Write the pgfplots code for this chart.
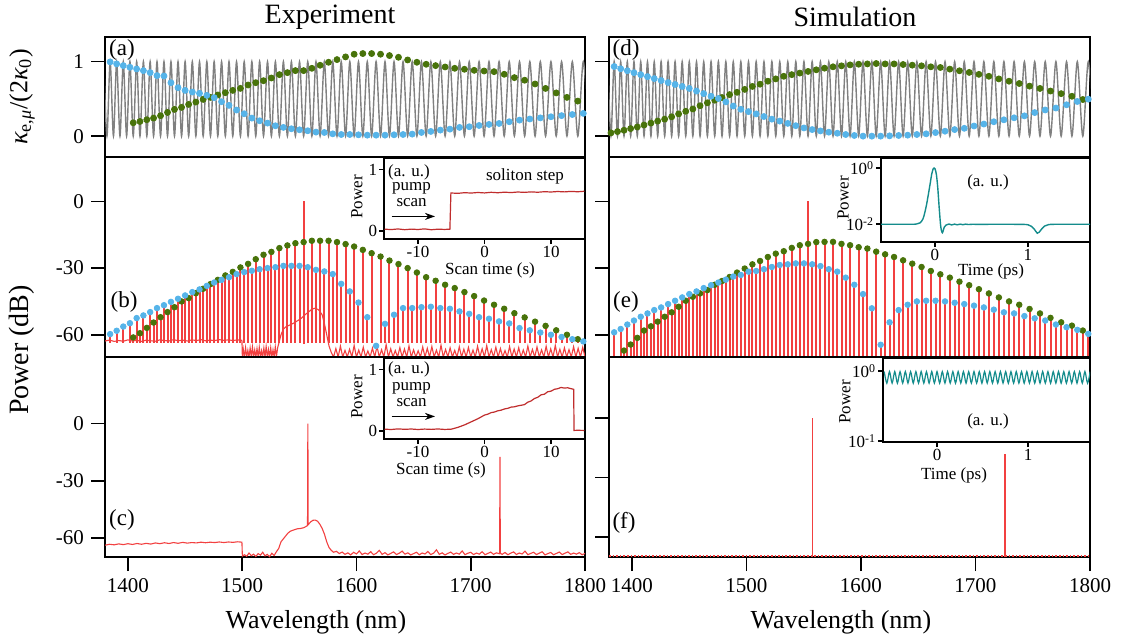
\documentclass[border=0pt]{standalone}
\usepackage{fontspec}
\setmainfont{Liberation Serif}
\usepackage{pgfplots}
\pgfplotsset{compat=1.18}
\usepackage{pgfplotstable}
\usetikzlibrary{arrows.meta}

\definecolor{cblue}{RGB}{86,180,233}
\definecolor{cgreen}{RGB}{72,115,10}
\definecolor{cred}{RGB}{242,64,64}
\definecolor{cdred}{RGB}{192,45,45}
\definecolor{cteal}{RGB}{20,140,140}
\definecolor{cgray}{RGB}{128,128,128}

% kappa oscillation: maxima and minima on the mode grid
\pgfplotstableread{
x y
1378.9 1
1381.7 0
1384.5 1
1387.4 0
1390.2 1
1393.1 0
1396.0 1
1398.9 0
1401.8 1
1404.7 0
1407.7 1
1410.6 0
1413.6 1
1416.6 0
1419.5 1
1422.5 0
1425.5 1
1428.6 0
1431.6 1
1434.7 0
1437.7 1
1440.8 0
1443.9 1
1447.0 0
1450.1 1
1453.2 0
1456.4 1
1459.5 0
1462.7 1
1465.9 0
1469.1 1
1472.3 0
1475.5 1
1478.7 0
1482.0 1
1485.3 0
1488.5 1
1491.8 0
1495.1 1
1498.5 0
1501.8 1
1505.2 0
1508.5 1
1511.9 0
1515.3 1
1518.7 0
1522.2 1
1525.6 0
1529.1 1
1532.6 0
1536.1 1
1539.6 0
1543.1 1
1546.6 0
1550.2 1
1553.8 0
1557.4 1
1561.0 0
1564.6 1
1568.2 0
1571.9 1
1575.6 0
1579.3 1
1583.0 0
1586.7 1
1590.5 0
1594.2 1
1598.0 0
1601.8 1
1605.6 0
1609.5 1
1613.3 0
1617.2 1
1621.1 0
1625.0 1
1628.9 0
1632.9 1
1636.8 0
1640.8 1
1644.8 0
1648.8 1
1652.9 0
1656.9 1
1661.0 0
1665.1 1
1669.3 0
1673.4 1
1677.6 0
1681.8 1
1686.0 0
1690.2 1
1694.5 0
1698.7 1
1703.0 0
1707.3 1
1711.7 0
1716.0 1
1720.4 0
1724.8 1
1729.3 0
1733.7 1
1738.2 0
1742.7 1
1747.2 0
1751.7 1
1756.3 0
1760.9 1
1765.5 0
1770.2 1
1774.8 0
1779.5 1
1784.2 0
1788.9 1
1793.7 0
1798.5 1
1803.3 0
}\gridtab

\pgfplotstableread{
x y
1384.5 0.996
1390.2 0.969
1396.0 0.946
1401.8 0.924
1407.7 0.901
1413.6 0.879
1419.5 0.852
1425.5 0.812
1431.6 0.807
1437.7 0.717
1443.9 0.650
1450.1 0.614
1456.4 0.592
1462.7 0.574
1469.1 0.547
1475.5 0.516
1482.0 0.462
1488.5 0.413
1495.1 0.350
1501.8 0.300
1508.5 0.242
1515.3 0.206
1522.2 0.175
1529.1 0.139
1536.1 0.117
1543.1 0.099
1550.2 0.085
1557.4 0.072
1564.6 0.054
1571.9 0.049
1579.3 0.031
1586.7 0.022
1594.2 0.022
1601.8 0.018
1609.5 0.013
1617.2 0.013
1625.0 0.013
1632.9 0.018
1640.8 0.022
1648.8 0.027
1656.9 0.049
1665.1 0.063
1673.4 0.081
1681.8 0.094
1690.2 0.117
1698.7 0.126
1707.3 0.143
1716.0 0.157
1724.8 0.170
1733.7 0.193
1742.7 0.215
1751.7 0.230
1760.9 0.245
1770.2 0.260
1779.5 0.275
1788.9 0.290
1798.5 0.305
}\ablue

\pgfplotstableread{
x y
1404.7 0.179
1410.6 0.197
1416.6 0.220
1422.5 0.242
1428.6 0.274
1434.7 0.318
1440.8 0.359
1447.0 0.386
1453.2 0.426
1459.5 0.457
1465.9 0.493
1472.3 0.520
1478.7 0.552
1485.3 0.583
1491.8 0.614
1498.5 0.641
1505.2 0.686
1511.9 0.717
1518.7 0.744
1525.6 0.780
1532.6 0.825
1539.6 0.852
1546.6 0.879
1553.8 0.879
1561.0 0.910
1568.2 0.951
1575.6 0.991
1583.0 1.027
1590.5 1.063
1598.0 1.099
1605.6 1.108
1613.3 1.108
1621.1 1.099
1628.9 1.081
1636.8 1.058
1644.8 1.022
1652.9 0.991
1661.0 0.964
1669.3 0.946
1677.6 0.928
1686.0 0.910
1694.5 0.897
1703.0 0.883
1711.7 0.874
1720.4 0.865
1729.3 0.830
1738.2 0.785
1747.2 0.750
1756.3 0.700
1765.5 0.640
1774.8 0.580
1784.2 0.520
1793.7 0.470
}\agreen

\pgfplotstableread{
x y
1384.5 0.934
1390.2 0.904
1396.0 0.877
1401.8 0.851
1407.7 0.825
1413.6 0.798
1419.5 0.772
1425.5 0.746
1431.6 0.719
1437.7 0.693
1443.9 0.667
1450.1 0.640
1456.4 0.605
1462.7 0.570
1469.1 0.535
1475.5 0.505
1482.0 0.460
1488.5 0.404
1495.1 0.360
1501.8 0.329
1508.5 0.298
1515.3 0.263
1522.2 0.228
1529.1 0.202
1536.1 0.171
1543.1 0.140
1550.2 0.110
1557.4 0.088
1564.6 0.070
1571.9 0.053
1579.3 0.039
1586.7 0.022
1594.2 0.009
1601.8 0.000
1609.5 0.000
1617.2 0.000
1625.0 0.004
1632.9 0.009
1640.8 0.013
1648.8 0.022
1656.9 0.031
1665.1 0.048
1673.4 0.066
1681.8 0.088
1690.2 0.105
1698.7 0.136
1707.3 0.162
1716.0 0.193
1724.8 0.219
1733.7 0.246
1742.7 0.272
1751.7 0.316
1760.9 0.351
1770.2 0.377
1779.5 0.421
1788.9 0.465
1798.5 0.496
}\dblue

\pgfplotstableread{
x y
1381.7 0.044
1387.4 0.061
1393.1 0.079
1398.9 0.101
1404.7 0.123
1410.6 0.149
1416.6 0.175
1422.5 0.202
1428.6 0.228
1434.7 0.259
1440.8 0.298
1447.0 0.333
1453.2 0.364
1459.5 0.408
1465.9 0.447
1472.3 0.482
1478.7 0.518
1485.3 0.557
1491.8 0.588
1498.5 0.627
1505.2 0.667
1511.9 0.697
1518.7 0.737
1525.6 0.768
1532.6 0.803
1539.6 0.825
1546.6 0.846
1553.8 0.868
1561.0 0.890
1568.2 0.912
1575.6 0.930
1583.0 0.943
1590.5 0.956
1598.0 0.965
1605.6 0.969
1613.3 0.974
1621.1 0.969
1628.9 0.969
1636.8 0.961
1644.8 0.952
1652.9 0.943
1661.0 0.930
1669.3 0.921
1677.6 0.899
1686.0 0.877
1694.5 0.855
1703.0 0.829
1711.7 0.803
1720.4 0.768
1729.3 0.737
1738.2 0.706
1747.2 0.671
1756.3 0.640
1765.5 0.605
1774.8 0.570
1784.2 0.535
1793.7 0.491
}\dgreen

\pgfplotstableread{
x y
1384.5 -59.7
1390.2 -58.2
1396.0 -56.3
1401.8 -54.8
1407.7 -52.5
1413.6 -51.3
1419.5 -49.8
1425.5 -48.0
1431.6 -46.7
1437.7 -45.2
1443.9 -43.8
1450.1 -42.3
1456.4 -40.8
1462.7 -39.6
1469.1 -38.0
1475.5 -36.5
1482.0 -35.3
1488.5 -34.1
1495.1 -32.7
1501.8 -31.8
1508.5 -31.2
1515.3 -30.5
1522.2 -30.0
1529.1 -29.6
1536.1 -29.0
1543.1 -29.0
1550.2 -29.0
1557.4 -29.6
1564.6 -30.8
1571.9 -31.5
1579.3 -32.7
1586.7 -37.1
1594.2 -40.5
1601.8 -45.5
1609.5 -52.1
1617.2 -65.0
1625.0 -55.1
1632.9 -51.0
1640.8 -48.0
1648.8 -48.0
1656.9 -47.6
1665.1 -47.4
1673.4 -48.0
1681.8 -48.3
1690.2 -49.5
1698.7 -50.6
1707.3 -52.1
1716.0 -52.8
1724.8 -54.0
1733.7 -54.9
1742.7 -57.0
1751.7 -58.0
1760.9 -59.0
1770.2 -60.0
1779.5 -61.0
1788.9 -62.0
1798.5 -63.0
}\bblue

\pgfplotstableread{
x y
1404.7 -61.2
1410.6 -59.3
1416.6 -56.9
1422.5 -54.5
1428.6 -52.1
1434.7 -49.8
1440.8 -47.6
1447.0 -45.0
1453.2 -43.5
1459.5 -41.3
1465.9 -39.3
1472.3 -37.2
1478.7 -35.3
1485.3 -33.3
1491.8 -31.7
1498.5 -29.7
1505.2 -28.1
1511.9 -26.0
1518.7 -24.0
1525.6 -22.7
1532.6 -21.0
1539.6 -19.8
1546.6 -18.8
1553.8 -18.3
1561.0 -17.7
1568.2 -17.7
1575.6 -17.7
1583.0 -18.3
1590.5 -19.2
1598.0 -20.3
1605.6 -21.8
1613.3 -23.3
1621.1 -24.8
1628.9 -26.6
1636.8 -28.2
1644.8 -30.0
1652.9 -32.0
1661.0 -34.1
1669.3 -35.7
1677.6 -37.5
1686.0 -39.0
1694.5 -40.8
1703.0 -42.6
1711.7 -44.6
1720.4 -46.5
1729.3 -48.3
1738.2 -50.3
1747.2 -52.2
1756.3 -54.1
1765.5 -56.0
1774.8 -58.0
1784.2 -60.0
1793.7 -62.0
}\bgreen

\pgfplotstableread{
x y
1384.5 -58.9
1390.2 -57.4
1396.0 -55.4
1401.8 -53.6
1407.7 -51.9
1413.6 -50.4
1419.5 -48.9
1425.5 -47.7
1431.6 -46.2
1437.7 -44.7
1443.9 -43.2
1450.1 -41.7
1456.4 -40.5
1462.7 -39.0
1469.1 -37.7
1475.5 -36.5
1482.0 -35.2
1488.5 -33.8
1495.1 -33.1
1501.8 -31.6
1508.5 -31.3
1515.3 -30.5
1522.2 -29.5
1529.1 -28.6
1536.1 -28.3
1543.1 -27.9
1550.2 -27.9
1557.4 -28.3
1564.6 -29.1
1571.9 -30.5
1579.3 -31.6
1586.7 -34.3
1594.2 -37.5
1601.8 -41.7
1609.5 -48.1
1617.2 -64.5
1625.0 -54.4
1632.9 -48.9
1640.8 -46.5
1648.8 -45.0
1656.9 -44.7
1665.1 -44.7
1673.4 -45.0
1681.8 -45.6
1690.2 -46.2
1698.7 -46.9
1707.3 -47.7
1716.0 -48.7
1724.8 -49.9
1733.7 -50.4
1742.7 -51.6
1751.7 -52.6
1760.9 -53.6
1770.2 -55.4
1779.5 -56.6
1788.9 -57.8
1798.5 -59.6
}\eblue

\pgfplotstableread{
x y
1393.1 -67.1
1398.9 -64.4
1404.7 -61.4
1410.6 -58.1
1416.6 -56.2
1422.5 -54.1
1428.6 -51.9
1434.7 -49.9
1440.8 -47.4
1447.0 -44.7
1453.2 -42.9
1459.5 -41.4
1465.9 -39.9
1472.3 -37.5
1478.7 -35.8
1485.3 -34.0
1491.8 -32.0
1498.5 -30.2
1505.2 -28.3
1511.9 -26.8
1518.7 -25.0
1525.6 -23.5
1532.6 -22.4
1539.6 -20.9
1546.6 -19.7
1553.8 -19.1
1561.0 -18.3
1568.2 -18.2
1575.6 -18.2
1583.0 -19.1
1590.5 -19.7
1598.0 -20.6
1605.6 -21.2
1613.3 -22.6
1621.1 -23.8
1628.9 -25.0
1636.8 -26.5
1644.8 -28.0
1652.9 -29.5
1661.0 -31.3
1669.3 -32.8
1677.6 -34.3
1686.0 -36.1
1694.5 -37.7
1703.0 -39.5
1711.7 -41.4
1720.4 -43.2
1729.3 -45.0
1738.2 -46.5
1747.2 -48.4
1756.3 -50.4
1765.5 -52.4
1774.8 -54.4
1784.2 -55.9
1793.7 -58.1
}\egreen

% measured background of the soliton spectrum (b)
\pgfplotstableread{
x y
1380 -62.8
1384 -62.4
1388 -63.0
1392 -62.6
1396 -62.9
1400 -62.3
1404 -62.8
1408 -62.5
1412 -63.0
1416 -62.4
1420 -62.7
1424 -62.9
1428 -62.3
1432 -62.6
1436 -62.8
1440 -62.2
1444 -62.7
1448 -62.4
1452 -62.8
1456 -62.3
1460 -62.6
1464 -62.2
1468 -62.7
1472 -62.4
1476 -62.6
1480 -62.2
1484 -62.5
1488 -62.3
1492 -62.6
1496 -62.3
1499.8 -62.5
1500.2 -70
1501 -66.5
1502 -70
1503 -65.8
1504 -70
1505 -67.0
1506 -70
1507 -66.0
1508 -70
1509 -65.5
1510 -70
1511 -66.8
1512 -70
1513 -66.2
1514 -70
1515 -65.7
1516 -70
1517 -67.2
1518 -70
1519 -66.0
1520 -70
1521 -65.4
1522 -70
1523 -66.6
1524 -70
1525 -65.9
1526 -70
1527 -66.8
1528 -70
1529 -65.5
1530 -70
1531 -66.0
1532 -64.0
1534 -60.0
1536 -57.5
1538 -56.5
1540 -56.0
1543 -55.3
1546 -54.5
1549 -53.5
1552 -52.5
1555 -51.0
1558 -49.8
1561 -48.5
1564 -48.0
1567 -48.8
1570 -51.0
1572 -55.0
1574 -60.0
1576 -65.0
1578 -68.0
1580 -70
1582 -66.2
1584 -70
1586 -65.1
1588 -70
1590 -67.0
1592 -70
1594 -66.5
1596 -70
1598 -64.8
1600 -70
1602 -66.9
1604 -70
1606 -65.6
1608 -70
1610 -67.3
1612 -70
1614 -66.0
1616 -70
1618 -65.2
1620 -70
1622 -66.7
1624 -70
1626 -64.5
1628 -70
1630 -66.3
1632 -70
1634 -67.1
1636 -70
1638 -65.8
1640 -70
1642 -66.4
1644 -70
1646 -65.0
1648 -70
1650 -66.8
1652 -70
1654 -67.2
1656 -70
1658 -65.5
1660 -70
1662 -66.1
1664 -70
1666 -65.3
1668 -70
1670 -66.9
1672 -70
1674 -64.7
1676 -70
1678 -66.6
1680 -70
1682 -65.9
1684 -70
1686 -67.0
1688 -70
1690 -65.4
1692 -70
1694 -66.5
1696 -70
1698 -65.7
1700 -70
1702 -66.9
1704 -70
1706 -65.2
1708 -70
1710 -66.3
1712 -70
1714 -64.9
1716 -70
1718 -66.7
1720 -70
1722 -65.6
1724 -70
1726 -66.2
1728 -70
1730 -67.1
1732 -70
1734 -65.3
1736 -70
1738 -66.4
1740 -70
1742 -65.8
1744 -70
1746 -66.9
1748 -70
1750 -65.1
1752 -70
1754 -66.6
1756 -70
1758 -65.5
1760 -70
1762 -66.8
1764 -70
1766 -65.2
1768 -70
1770 -66.3
1772 -70
1774 -64.8
1776 -70
1778 -66.5
1780 -70
1782 -65.9
1784 -70
1786 -66.7
1788 -70
1790 -65.4
1792 -70
1794 -66.1
1796 -70
1798 -65.6
1800 -70
}\bfloor

% measured spectrum (c)
\pgfplotstableread{
x y
1380 -63.8
1384 -63.3
1388 -63.6
1392 -63.1
1396 -63.5
1400 -63.0
1404 -63.4
1408 -62.9
1412 -63.3
1416 -62.8
1420 -63.2
1424 -62.6
1428 -63.0
1432 -62.5
1436 -62.9
1440 -62.4
1444 -62.8
1448 -62.3
1452 -62.7
1456 -62.4
1460 -62.6
1464 -62.2
1468 -62.5
1472 -62.2
1476 -62.4
1480 -62.1
1484 -62.4
1488 -62.1
1492 -62.3
1496 -62.0
1499.8 -62.2
1500.2 -69.5
1502 -68.8
1504 -69.6
1506 -67.9
1508 -69.3
1510 -68.5
1512 -69.7
1514 -68.2
1516 -69.0
1518 -67.5
1520 -69.4
1522 -68.6
1524 -69.8
1526 -68.0
1528 -69.2
1530 -67.2
1532 -65.5
1534 -62.0
1536 -60.5
1538 -59.0
1540 -57.5
1542 -56.5
1545 -55.8
1548 -55.2
1551 -55.0
1554 -54.6
1557.2 -53.5
1557.5 0
1557.8 -53.0
1560 -51.5
1562 -50.7
1564 -50.6
1566 -51.2
1568 -52.8
1570 -55.0
1572 -58.0
1574 -62.0
1576 -65.0
1578 -66.5
1580 -67.5
1582.5 -67.0
1585 -68.2
1587.5 -67.4
1590 -68.6
1592.5 -67.8
1595 -68.9
1597.5 -67.5
1600 -68.4
1602.5 -66.8
1605 -68.7
1607.5 -67.9
1610 -68.5
1612.5 -67.2
1615 -68.8
1617.5 -68.0
1620 -66.5
1622.5 -68.6
1625 -67.7
1627.5 -68.9
1630 -68.1
1632.5 -67.3
1635 -68.7
1637.5 -68.0
1640 -66.9
1642.5 -68.5
1645 -67.8
1647.5 -68.9
1650 -68.2
1652.5 -67.5
1655 -68.8
1657.5 -67.9
1660 -68.4
1662.5 -67.1
1665 -68.7
1667.5 -68.0
1670 -66.2
1672.5 -68.6
1675 -67.8
1677.5 -68.9
1680 -68.1
1682.5 -67.4
1685 -68.6
1687.5 -67.9
1690 -68.5
1692.5 -66.8
1695 -68.8
1697.5 -68.0
1700 -67.5
1702.5 -68.7
1705 -67.9
1707.5 -68.5
1710 -67.2
1712.5 -68.8
1715 -68.1
1717.5 -67.4
1720 -68.6
1722.5 -67.8
1725.3 -68.3
1725.6 -17.4
1725.9 -68.0
1727.5 -68.6
1730 -67.6
1732.5 -68.8
1735 -68.0
1737.5 -67.3
1740 -68.7
1742.5 -67.9
1745 -68.4
1747.5 -66.9
1750 -68.8
1752.5 -68.1
1755 -67.5
1757.5 -68.7
1760 -68.0
1762.5 -67.2
1765 -68.9
1767.5 -68.2
1770 -67.6
1772.5 -68.8
1775 -68.1
1777.5 -67.4
1780 -68.7
1782.5 -68.0
1785 -67.3
1787.5 -68.6
1790 -67.9
1792.5 -68.5
1795 -67.7
1797.5 -68.8
1800 -68.1
}\cfloor

\pgfplotstableread{
x y
-15 0.030
-14 0.024
-13 0.034
-12 0.022
-11 0.031
-10 0.025
-9 0.035
-8 0.021
-7 0.030
-6 0.026
-5.2 0.030
-5.05 0.620
-4 0.614
-3 0.625
-2 0.619
-1 0.628
0 0.621
1 0.631
2 0.624
3 0.633
4 0.627
5 0.636
6 0.630
7 0.638
8 0.632
9 0.641
10 0.636
11 0.644
12 0.638
13 0.646
14 0.640
15 0.648
}\binset

\pgfplotstableread{
x y
-15 0.030
-14 0.025
-13 0.035
-12 0.028
-11 0.033
-10 0.025
-9 0.032
-8 0.027
-7 0.034
-6 0.026
-5 0.030
-4 0.060
-3 0.100
-2 0.150
-1 0.200
0 0.260
0.5 0.275
1 0.300
1.5 0.310
2 0.330
2.5 0.340
3 0.360
3.5 0.370
4 0.390
4.5 0.395
5 0.410
5.5 0.420
6 0.430
6.5 0.470
7 0.490
7.5 0.530
8 0.550
8.5 0.590
9 0.600
9.5 0.640
10 0.650
10.5 0.680
11 0.690
11.5 0.710
12 0.700
12.5 0.705
13 0.690
13.4 0.680
13.45 0.010
14 0.012
15 0.010
}\cinset

\pgfplotstableread{
x y
-0.58 0.0098
-0.40 0.0098
-0.25 0.0098
-0.20 0.0100
-0.16 0.0110
-0.13 0.015
-0.11 0.025
-0.09 0.050
-0.07 0.120
-0.05 0.300
-0.035 0.600
-0.02 0.920
-0.01 1.000
0.00 0.950
0.015 0.600
0.03 0.200
0.045 0.040
0.06 0.0095
0.07 0.0058
0.08 0.0049
0.09 0.0060
0.10 0.0078
0.12 0.0092
0.15 0.0100
0.18 0.0093
0.21 0.0099
0.24 0.0094
0.27 0.0099
0.30 0.0095
0.33 0.0099
0.36 0.0096
0.40 0.0098
0.50 0.0097
0.60 0.0098
0.80 0.0098
0.95 0.0097
1.00 0.0094
1.04 0.0082
1.07 0.0064
1.10 0.0047
1.12 0.0051
1.15 0.0068
1.18 0.0085
1.22 0.0095
1.30 0.0098
1.67 0.0098
}\einset

\pgfplotstableread{
x y
-0.580 0.98
-0.551 0.67
-0.522 0.98
-0.493 0.67
-0.464 0.98
-0.435 0.67
-0.406 0.98
-0.377 0.67
-0.348 0.98
-0.319 0.67
-0.290 0.98
-0.261 0.67
-0.232 0.98
-0.203 0.67
-0.174 0.98
-0.145 0.67
-0.116 0.98
-0.087 0.67
-0.058 0.98
-0.029 0.67
0.000 0.98
0.029 0.67
0.058 0.98
0.087 0.67
0.116 0.98
0.145 0.67
0.174 0.98
0.203 0.67
0.232 0.98
0.261 0.67
0.290 0.98
0.319 0.67
0.348 0.98
0.377 0.67
0.406 0.98
0.435 0.67
0.464 0.98
0.493 0.67
0.522 0.98
0.551 0.67
0.580 0.98
0.609 0.67
0.638 0.98
0.667 0.67
0.696 0.98
0.725 0.67
0.754 0.98
0.783 0.67
0.812 0.98
0.841 0.67
0.870 0.98
0.899 0.67
0.928 0.98
0.957 0.67
0.986 0.98
1.015 0.67
1.044 0.98
1.073 0.67
1.102 0.98
1.131 0.67
1.160 0.98
1.189 0.67
1.218 0.98
1.247 0.67
1.276 0.98
1.305 0.67
1.334 0.98
1.363 0.67
1.392 0.98
1.421 0.67
1.450 0.98
1.479 0.67
1.508 0.98
1.537 0.67
1.566 0.98
1.595 0.67
1.624 0.98
1.653 0.67
1.682 0.98
}\finset

\pgfplotsset{
  mainax/.style={scale only axis, anchor=north west, xmin=1380, xmax=1800,
    axis line style={line width=0.9pt}, tick style={line width=0.8pt, black},
    tick align=outside, major tick length=7pt, tick pos=left,
    /pgf/number format/assume math mode=true, /pgf/number format/1000 sep={},
    ticklabel style={font=\fontsize{10.5}{12}\selectfont}},
  insetax/.style={scale only axis, anchor=north west, axis background/.style={fill=white},
    axis line style={line width=0.8pt}, tick style={line width=0.6pt, black},
    tick align=outside, major tick length=2.5pt, tick pos=left,
    /pgf/number format/assume math mode=true,
    ticklabel style={font=\fontsize{8.5}{10}\selectfont, inner sep=0.8pt}},
  stem/.style={draw=cred, line width=1pt, -, quiver={u=0, v={-\thisrow{y}-#1}}},
  dotmk/.style={only marks, mark=*, mark size=#1},
}

\begin{document}
\begin{tikzpicture}
\path[use as bounding box] (0,0) rectangle (561pt,-321.5pt);

% (a)
\begin{axis}[mainax, at={(52.5pt,-18.5pt)}, width=240pt, height=60pt,
  ymin=-0.28, ymax=1.33, ytick={0,1}, xtick=\empty]
\addplot[cgray, line width=0.7pt, smooth] table {\gridtab};
\addplot[dotmk=1.5pt, cgreen] table {\agreen};
\addplot[dotmk=1.5pt, cblue] table {\ablue};
\end{axis}

% (b)
\begin{axis}[mainax, at={(52.5pt,-78.5pt)}, width=240pt, height=100pt,
  ymin=-70, ymax=20, ytick={-60,-30,0}, xtick=\empty]
\addplot[stem=63.5] table {\bgreen};
\addplot[stem=63.5] table {\bblue};
\addplot[draw=cred, line width=0.9pt] coordinates {(1553.8,-64) (1553.8,0)};
\addplot[cred, line width=0.55pt] table {\bfloor};
\addplot[dotmk=1.4pt, cgreen] table {\bgreen};
\addplot[dotmk=1.4pt, cblue] table {\bblue};
\end{axis}

% (c)
\begin{axis}[mainax, at={(52.5pt,-178.5pt)}, width=240pt, height=100pt,
  ymin=-70, ymax=35, ytick={-60,-30,0}, xtick={1400,1500,1600,1700,1800}]
\addplot[cred, line width=0.55pt] table {\cfloor};
\end{axis}

% (d)
\begin{axis}[mainax, at={(304.5pt,-18.5pt)}, width=240.5pt, height=60pt,
  ymin=-0.28, ymax=1.33, ytick={0,1}, yticklabels={}, xtick=\empty]
\addplot[cgray, line width=0.7pt, smooth] table {\gridtab};
\addplot[dotmk=1.5pt, cgreen] table {\dgreen};
\addplot[dotmk=1.5pt, cblue] table {\dblue};
\end{axis}

% (e)
\begin{axis}[mainax, at={(304.5pt,-78.5pt)}, width=240.5pt, height=100pt,
  ymin=-70, ymax=20, ytick={-60,-30,0}, yticklabels={}, xtick=\empty]
\addplot[stem=70] table {\eblue};
\addplot[stem=70] table {\egreen};
\addplot[draw=cred, line width=0.9pt] coordinates {(1553.8,-70) (1553.8,0)};
\addplot[dotmk=1.4pt, cgreen] table {\egreen};
\addplot[dotmk=1.4pt, cblue] table {\eblue};
\end{axis}

% (f)
\begin{axis}[mainax, at={(304.5pt,-178.5pt)}, width=240.5pt, height=100pt,
  ymin=-70, ymax=30.5, ytick={-60,-30,0}, yticklabels={}, xtick={1400,1500,1600,1700,1800}]
\addplot[cred, line width=0.8pt, densely dotted] coordinates {(1380,-69.6) (1800,-69.6)};
\addplot[cred, line width=0.8pt] coordinates {(1557.6,-70) (1557.6,0)};
\addplot[cred, line width=0.8pt] coordinates {(1725.6,-70) (1725.6,-18)};
\end{axis}

% insets
\begin{axis}[insetax, at={(192pt,-79pt)}, width=100.5pt, height=40.5pt,
  xmin=-15.1, xmax=15.1, ymin=-0.13, ymax=1.19, xtick={-10,0,10}, ytick={0,1}]
\addplot[cdred, line width=0.6pt] table {\binset};
\end{axis}
\begin{axis}[insetax, at={(192pt,-179pt)}, width=100.5pt, height=40.5pt,
  xmin=-15.1, xmax=15.1, ymin=-0.13, ymax=1.19, xtick={-10,0,10}, ytick={0,1}]
\addplot[cdred, line width=0.6pt] table {\cinset};
\end{axis}
\begin{axis}[insetax, at={(440.5pt,-79pt)}, width=104.5pt, height=42pt,
  xmin=-0.58, xmax=1.667, ymode=log, ymin=0.00228, ymax=2.28, yminorticks=false,
  xtick={0,1}, ytick={0.01,1}, yticklabels={10\textsuperscript{-2},10\textsuperscript{0}}]
\addplot[cteal, line width=0.7pt, smooth] table {\einset};
\end{axis}
\begin{axis}[insetax, at={(441.5pt,-179pt)}, width=103.5pt, height=42pt,
  xmin=-0.593, xmax=1.68, ymode=log, ymin=0.097, ymax=1.53, yminorticks=false,
  xtick={0,1}, ytick={0.1,1}, yticklabels={10\textsuperscript{-1},10\textsuperscript{0}}]
\addplot[cteal, line width=0.6pt, smooth] table {\finset};
\end{axis}

% titles and labels
\node[font=\fontsize{14}{16}\selectfont] at (165pt,-8.5pt) {Experiment};
\node[font=\fontsize{14}{16}\selectfont] at (427.5pt,-8.5pt) {Simulation};
\node[font=\fontsize{13}{15}\selectfont, rotate=90] at (11pt,-48.5pt)
  {{\itshape κ}\textsubscript{e,{\itshape μ}}/(2{\itshape κ}\textsubscript{0})};
\node[font=\fontsize{14}{16}\selectfont, rotate=90] at (11pt,-175pt) {Power (dB)};
\node[font=\fontsize{13}{15}\selectfont] at (158pt,-311pt) {Wavelength (nm)};
\node[font=\fontsize{13}{15}\selectfont] at (420.5pt,-311pt) {Wavelength (nm)};

\begin{scope}[font=\fontsize{11.5}{13}\selectfont]
\node at (61pt,-25pt) {(a)};
\node at (62pt,-151pt) {(b)};
\node at (61pt,-260pt) {(c)};
\node at (313pt,-25pt) {(d)};
\node at (313pt,-151pt) {(e)};
\node at (312pt,-261.5pt) {(f)};
\end{scope}

\begin{scope}[font=\fontsize{8.5}{10}\selectfont]
\node[anchor=base] at (204.5pt,-88.3pt) {(a. u.)};
\node[anchor=base, inner sep=0pt] at (205.8pt,-95.3pt) {pump};
\node[anchor=base, inner sep=0pt] at (205.8pt,-103.3pt) {scan};
\draw[-{Stealth[length=5pt,width=3.5pt]}, line width=0.8pt] (195.8pt,-108.2pt) -- (217.5pt,-108.2pt);
\node[anchor=base] at (262.5pt,-90.3pt) {soliton step};
\node[rotate=90] at (178.5pt,-98.5pt) {Power};
\node at (245pt,-135pt) {Scan time (s)};

\node[anchor=base] at (204.5pt,-186.6pt) {(a. u.)};
\node[anchor=base, inner sep=0pt] at (205.8pt,-195.3pt) {pump};
\node[anchor=base, inner sep=0pt] at (205.8pt,-203.3pt) {scan};
\draw[-{Stealth[length=5pt,width=3.5pt]}, line width=0.8pt] (195.8pt,-208.2pt) -- (217.5pt,-208.2pt);
\node[rotate=90] at (178.5pt,-198.5pt) {Power};
\node at (220.5pt,-235pt) {Scan time (s)};

\node at (494pt,-91pt) {(a. u.)};
\node[rotate=90] at (421.5pt,-99pt) {Power};
\node at (495.5pt,-135.5pt) {Time (ps)};

\node at (494pt,-210.5pt) {(a. u.)};
\node[rotate=90] at (422.5pt,-201pt) {Power};
\node at (477pt,-237.5pt) {Time (ps)};
\end{scope}
\end{tikzpicture}
\end{document}
